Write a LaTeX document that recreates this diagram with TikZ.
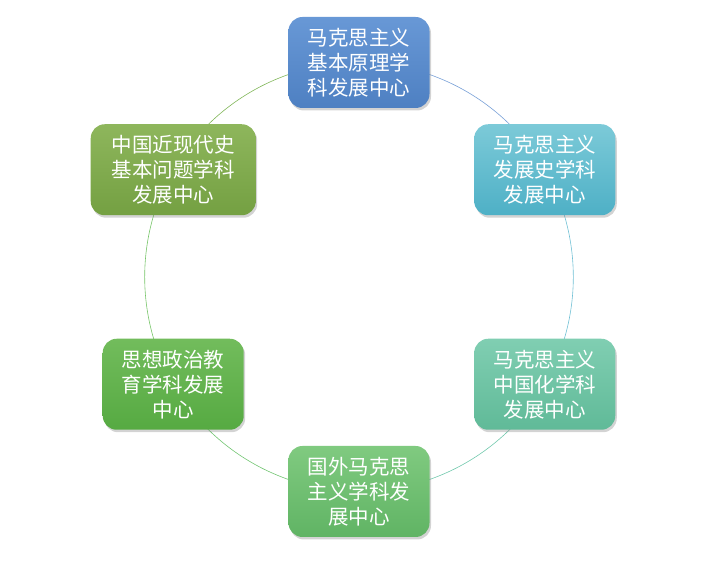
\documentclass[tikz,border=0pt]{standalone}
\usepackage{fontspec}
\newfontfamily\cjk{Noto Sans CJK SC}
\usepackage{xcolor}
\definecolor{azulTop}{RGB}{104,152,214}
\definecolor{azulBot}{RGB}{78,128,194}
\definecolor{cianTop}{RGB}{124,202,216}
\definecolor{cianBot}{RGB}{78,176,198}
\definecolor{aguaTop}{RGB}{128,206,178}
\definecolor{aguaBot}{RGB}{96,186,152}
\definecolor{verdeTop}{RGB}{128,202,128}
\definecolor{verdeBot}{RGB}{96,180,100}
\definecolor{pastoTop}{RGB}{114,188,92}
\definecolor{pastoBot}{RGB}{86,170,66}
\definecolor{olivaTop}{RGB}{142,182,92}
\definecolor{olivaBot}{RGB}{116,160,66}
\usetikzlibrary{positioning, calc, shadows, backgrounds}

\begin{document}
\begin{tikzpicture}[
  x=1pt, y=1pt,
  box/.style={rectangle, rounded corners=14pt, align=center, text=white,
              font=\cjk\fontsize{20.5}{25}\selectfont,
              minimum width=141pt, minimum height=91pt, inner sep=2pt,
              drop shadow={opacity=0.35, shadow xshift=1.5pt, shadow yshift=-2.5pt}},
  azul/.style={box, top color=azulTop, bottom color=azulBot},
  cian/.style={box, top color=cianTop, bottom color=cianBot},
  agua/.style={box, top color=aguaTop, bottom color=aguaBot},
  verde/.style={box, top color=verdeTop, bottom color=verdeBot},
  pasto/.style={box, top color=pastoTop, bottom color=pastoBot},
  oliva/.style={box, top color=olivaTop, bottom color=olivaBot, minimum width=165pt},
  arco/.style={line width=0.6pt, bend left=30, looseness=0.91}
]
\useasboundingbox (0,0) rectangle (720,569);
\coordinate (ctr) at (359,292);

% Centros
\node[azul]  (yuanli)  at ($(ctr)+(90:214.5)$)  {马克思主义\\基本原理学\\科发展中心};
\node[cian]  (fazhan)  at ($(ctr)+(30:214.5)$)  {马克思主义\\发展史学科\\发展中心};
\node[agua]  (zhongguo) at ($(ctr)+(-30:214.5)$) {马克思主义\\中国化学科\\发展中心};
\node[verde] (guowai)  at ($(ctr)+(-90:214.5)$) {国外马克思\\主义学科发\\展中心};
\node[pasto] (sixiang) at ($(ctr)+(-150:214.5)$) {思想政治教\\育学科发展\\中心};
\node[oliva] (jindai)  at ($(ctr)+(150:214.5)$) {中国近现代史\\基本问题学科\\发展中心};

% Circulo
\begin{scope}[on background layer]
\draw[arco, color={rgb,255:red,120;green,160;blue,215}] (yuanli.center) to (fazhan.center);
\draw[arco, color={rgb,255:red,112;green,192;blue,212}] (fazhan.center) to (zhongguo.center);
\draw[arco, color={rgb,255:red,112;green,200;blue,172}] (zhongguo.center) to (guowai.center);
\draw[arco, color={rgb,255:red,112;green,196;blue,112}] (guowai.center) to (sixiang.center);
\draw[arco, color={rgb,255:red,118;green,196;blue,104}] (sixiang.center) to (jindai.center);
\draw[arco, color={rgb,255:red,128;green,182;blue,88}]  (jindai.center) to (yuanli.center);
\end{scope}

\end{tikzpicture}
\end{document}
